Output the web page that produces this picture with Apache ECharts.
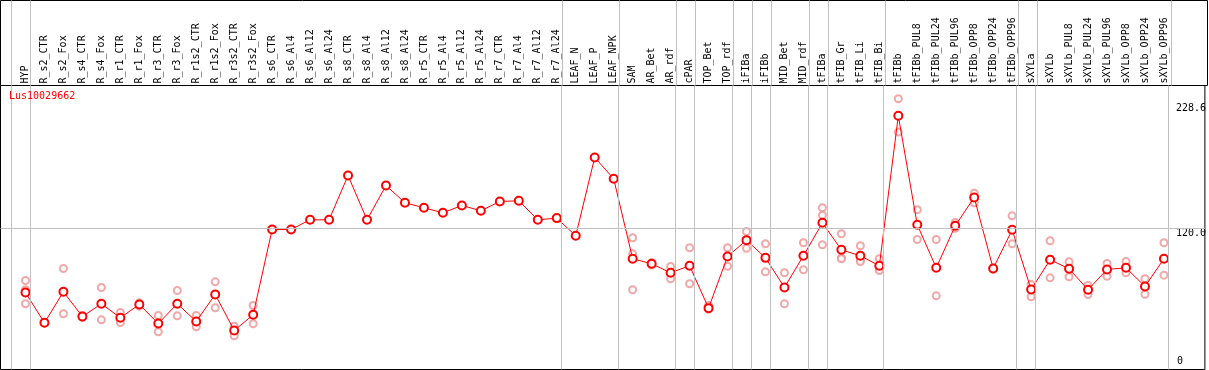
<!DOCTYPE html>
<html>
<head>
<meta charset="utf-8">
<script src="https://cdn.jsdelivr.net/npm/echarts@6/dist/echarts.min.js"></script>
<style>
html,body{margin:0;padding:0;background:#fff;}
#chart{width:1209px;height:370px;}
</style>
</head>
<body>
<div id="chart"></div>
<script>
const chartTitle = 'Lus10029662';
const categories = ['HYP','R_s2_CTR','R_s2_Fox','R_s4_CTR','R_s4_Fox','R_r1_CTR','R_r1_Fox','R_r3_CTR','R_r3_Fox','R_r1s2_CTR','R_r1s2_Fox','R_r3s2_CTR','R_r3s2_Fox','R_s6_CTR','R_s6_Al4','R_s6_Al12','R_s6_Al24','R_s8_CTR','R_s8_Al4','R_s8_Al12','R_s8_Al24','R_r5_CTR','R_r5_Al4','R_r5_Al12','R_r5_Al24','R_r7_CTR','R_r7_Al4','R_r7_Al12','R_r7_Al24','LEAF_N','LEAF_P','LEAF_NPK','SAM','AR_Bet','AR_rdf','cPAR','TOP_Bet','TOP_rdf','iFIBa','iFIBb','MID_Bet','MID_rdf','tFIBa','tFIB_Gr','tFIB_Li','tFIB_Bi','tFIBb','tFIBb_PUL8','tFIBb_PUL24','tFIBb_PUL96','tFIBb_OPP8','tFIBb_OPP24','tFIBb_OPP96','sXYLa','sXYLb','sXYLb_PUL8','sXYLb_PUL24','sXYLb_PUL96','sXYLb_OPP8','sXYLb_OPP24','sXYLb_OPP96'];
const means = [64.0,37.6,64.6,43.1,54.2,42.0,53.6,37.0,54.2,38.8,62.3,30.9,44.6,
  118.9,118.9,127.3,127.3,165.9,127.3,157.2,142.2,137.8,133.4,139.8,135.2,143.3,143.9,127.3,128.8,
  113.4,181.6,163.1,93.4,89.0,81.2,87.3,50.4,95.4,109.6,94.2,68.4,96.0,124.7,101.2,96.0,87.3,
  217.9,123.0,85.5,122.1,146.8,84.9,118.6,66.6,92.5,84.7,66.4,84.1,85.5,69.3,93.4];
const replicates = [[74.5,66.4,54.2],[37.6,37.6],[84.9,45.5],[44.0,42.2],[68.4,40.2],[46.6,37.9],[55.0,52.1],[44.0,29.8],[65.8,43.7],[44.0,34.1],[73.3,50.7],[34.7,26.3],[52.7,36.8],
  [],[],[],[],[],[],[],[],[],[],[],[],[],[],[],[],[],[],[],
  [111.7,97.7,66.4],[90.0,88.0],[86.7,76.0],[103.0,71.6],[52.7,49.6],[103.0,86.9],[117.2,102.6],[106.4,82.0],[81.2,54.2],[107.3,83.8],
  [137.8,131.4,105.6],[115.2,94.2,93.4],[104.7,92.2,91.0],[93.4,84.7,83.2],[232.8,203.7],[136.1,110.2],[110.2,61.1],[125.0,120.0],[150.5,142.2],[85.5,84.3],[130.8,106.4],
  [71.0,60.3],[109.1,76.8],[90.8,77.7],[70.1,62.3],[89.3,78.2],[91.0,81.2],[76.0,62.5],[107.3,79.1]];
const groupEnds = [-1,0,28,31,34,35,37,38,39,41,42,45,52,53,60];
const yTickUpper = [120, 228.6];
const yTickLower = [0];
const refLineValue = 120;

const X_MIN = -1.316, X_MAX = 62.158, Y_MIN = -3.05, Y_MAX = 244.3;
const BOUNDARY_OFFSET = 0.23;
const FONT = 'DejaVu Sans Mono';
const GRIDC = '#c0c0c0';

const meanData = means.map((v, i) => [i, v]);
const repData = [];
replicates.forEach((arr, i) => arr.forEach(v => repData.push([i, v])));
const vLines = groupEnds.map(g => ({ xAxis: g + BOUNDARY_OFFSET }));
const catIdx = categories.map((c, i) => i);

const chart = echarts.init(document.getElementById('chart'), null, { renderer: 'canvas' });
const mlStyle = { color: GRIDC, width: 1, type: 'solid' };
chart.setOption({
  animation: false,
  backgroundColor: '#fff',
  title: {
    text: chartTitle, left: 9, top: 91, padding: 0,
    textStyle: { color: '#ff0000', fontFamily: FONT, fontSize: 10, fontWeight: 'normal' }
  },
  grid: [
    { left: 0.5, right: 1.5, top: 0.5, height: 85, show: true, borderColor: '#000', borderWidth: 1, backgroundColor: 'transparent', containLabel: false },
    { left: 0.5, right: 1.5, top: 85.5, bottom: 0.5, show: true, borderColor: '#000', borderWidth: 1, backgroundColor: 'transparent', containLabel: false }
  ],
  xAxis: [
    { gridIndex: 0, type: 'value', min: X_MIN, max: X_MAX, show: false },
    { gridIndex: 1, type: 'value', min: X_MIN, max: X_MAX, position: 'top',
      axisLine: { show: false }, axisTick: { show: false }, splitLine: { show: false },
      axisLabel: { customValues: catIdx, rotate: 90, margin: 2, color: '#000', fontFamily: FONT, fontSize: 10,
        formatter: v => categories[Math.round(v)] || '' } }
  ],
  yAxis: [
    { gridIndex: 0, type: 'value', min: 0, max: 1, show: false },
    { gridIndex: 1, type: 'value', min: Y_MIN, max: Y_MAX, position: 'right',
      axisLine: { show: false }, axisTick: { show: false }, splitLine: { show: false },
      axisLabel: { customValues: yTickUpper, inside: true, align: 'left', verticalAlign: 'top', margin: 29,
        color: '#000', fontFamily: FONT, fontSize: 10, formatter: v => v.toFixed(1) } },
    { gridIndex: 1, type: 'value', min: Y_MIN, max: Y_MAX, position: 'right',
      axisLine: { show: false }, axisTick: { show: false }, splitLine: { show: false },
      axisLabel: { customValues: yTickLower, inside: true, align: 'left', verticalAlign: 'bottom', margin: 28,
        color: '#000', fontFamily: FONT, fontSize: 10, formatter: v => String(v) } }
  ],
  series: [
    { type: 'line', xAxisIndex: 0, yAxisIndex: 0, data: [], silent: true,
      markLine: { silent: true, symbol: 'none', label: { show: false }, lineStyle: mlStyle, data: vLines } },
    { type: 'scatter', xAxisIndex: 1, yAxisIndex: 1, data: repData, z: 2,
      symbol: 'emptyCircle', symbolSize: 7,
      itemStyle: { color: '#ec9292', borderColor: '#ec9292', borderWidth: 1.2 },
      markLine: { silent: true, symbol: 'none', label: { show: false }, lineStyle: mlStyle,
        data: vLines.concat([{ yAxis: refLineValue }]) } },
    { type: 'line', xAxisIndex: 1, yAxisIndex: 1, data: meanData, z: 3,
      symbol: 'emptyCircle', symbolSize: 8,
      lineStyle: { color: '#ff0000', width: 1 },
      itemStyle: { color: '#ff0000', borderColor: '#ff0000', borderWidth: 1.6 } }
  ]
});
</script>
</body>
</html>
